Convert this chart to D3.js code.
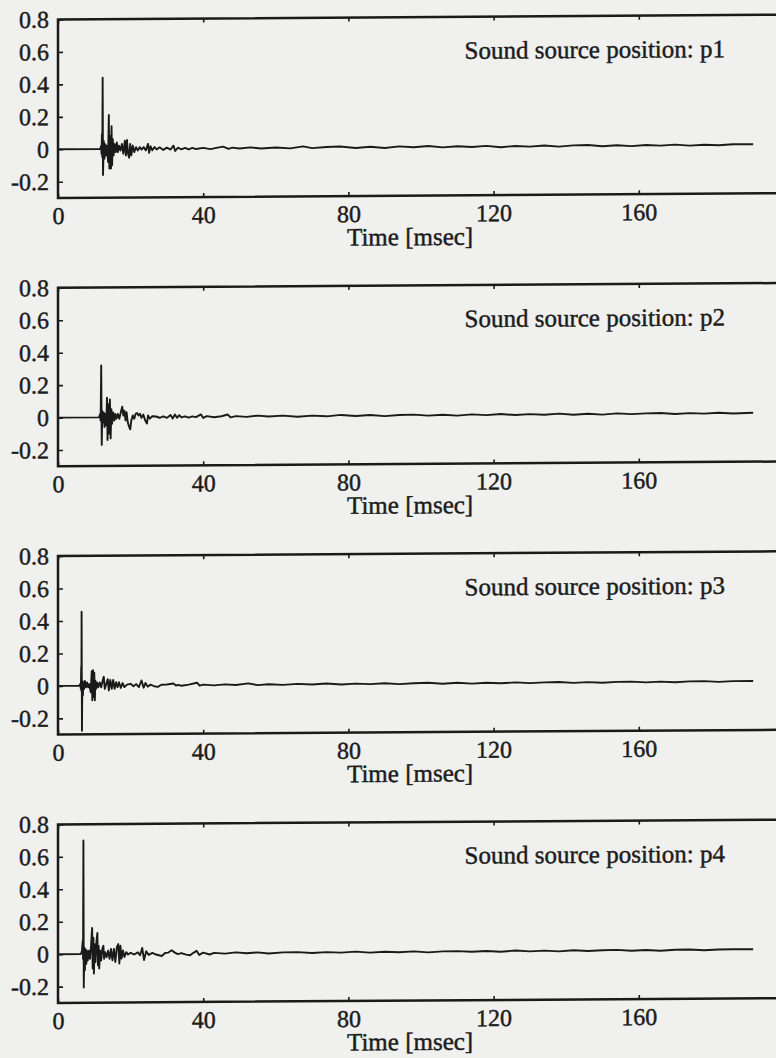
<!DOCTYPE html>
<html><head><meta charset="utf-8">
<script src="https://cdn.jsdelivr.net/npm/d3@7"></script>
<style>
html,body{margin:0;padding:0;background:#f0f0ee;}
svg{display:block;}
text{font-family:"Liberation Serif","Times New Roman",serif;fill:#1c1c1c;stroke:#1c1c1c;stroke-width:0.45px;}
</style></head><body>
<svg id="chart" width="776" height="1058"></svg>
<script>
// ---------- data ----------
const panelLabels = ["Sound source position: p1","Sound source position: p2","Sound source position: p3","Sound source position: p4"];
const xTicks = [0, 40, 80, 120, 160];
const yTicks = [-0.2, 0, 0.2, 0.4, 0.6, 0.8];
const xLabel = "Time [msec]";

// [time msec, amplitude]
const seriesP1 = [[0,0],[11.6,0],[11.9,0.02],[12.0,-0.03],[12.1,0.09],[12.2,-0.05],[12.3,0.44],[12.4,-0.16],[12.6,0.05],[12.8,-0.06],[13.0,0.03],[13.2,-0.04],[13.5,0.02],[13.8,-0.08],[14.0,0.21],[14.15,-0.12],[14.4,0.08],[14.6,-0.12],[14.75,0.14],[14.9,-0.1],[15.1,0.06],[15.3,-0.04],[15.6,0.03],[15.9,-0.02],[16.2,0.04],[16.5,-0.02],[16.8,0.02],[17.2,-0.01],[17.6,0.03],[18.0,-0.03],[18.4,0.05],[18.7,-0.04],[19.0,0.055],[19.3,-0.03],[19.6,-0.055],[19.9,0.03],[20.2,-0.04],[20.6,0.02],[21,-0.02],[21.5,0.01],[22,-0.01],[22.5,0.01],[23,-0.005],[23.6,0.01],[24.2,-0.01],[24.8,0.03],[25.1,-0.025],[25.5,0.015],[26,-0.01],[26.6,0.01],[27.2,-0.005],[28,0.008],[29,-0.008],[30,0.006],[31,-0.006],[31.8,0.018],[32.3,-0.015],[33,0.005],[34,-0.005],[35,0.004],[36,-0.006],[37,0.003],[38,-0.004],[40,0.003],[42,-0.005],[44,0.004],[45.5,0.01],[47,-0.004],[48,0.003],[50,-0.002],[53,0.004],[56,-0.003],[60,0.002],[64,-0.004],[67.5,0.008],[70,-0.003],[74,0.003],[77.7,0.006],[82,-0.004],[86,0.003],[90,-0.005],[94,0.004],[98,-0.002],[102,0.005],[106,-0.004],[110,0.003],[114,-0.003],[118,0.004],[122,-0.005],[126,0.002],[130,-0.003],[134,0.004],[138,-0.004],[142,0.003],[146,0.005],[150,-0.003],[154,0.002],[158,-0.004],[162,0.003],[166,-0.002],[170,0.004],[174,-0.003],[178,0.002],[182,-0.002],[186,0.004],[191.5,0.003]];

const seriesP2 = [[0,0],[11.3,0],[11.6,0.02],[11.75,-0.02],[11.9,0.32],[12.05,-0.17],[12.2,0.04],[12.4,-0.03],[12.6,0.03],[12.8,-0.06],[13.0,0.02],[13.3,-0.05],[13.5,0.12],[13.65,-0.14],[13.9,0.08],[14.1,-0.1],[14.3,0.11],[14.5,-0.13],[14.7,0.05],[14.9,-0.04],[15.2,0.03],[15.5,-0.02],[15.8,0.02],[16.1,-0.01],[16.5,0.02],[16.9,-0.01],[17.3,0.03],[17.7,0.065],[18.0,0.01],[18.3,0.04],[18.6,-0.02],[18.9,0.03],[19.2,-0.03],[19.6,-0.06],[19.9,-0.075],[20.2,-0.02],[20.6,0.01],[21.0,-0.01],[21.4,0.02],[21.8,0.025],[22.2,0.01],[22.6,0.02],[23.0,-0.005],[23.5,0.015],[24.0,-0.02],[24.5,-0.04],[24.8,0.01],[25.3,-0.01],[26,0.005],[27,0.003],[28,-0.005],[29,0.004],[30,-0.006],[31,0.012],[31.6,-0.01],[32.2,0.015],[32.8,-0.006],[33.4,0.01],[34,-0.004],[35,0.003],[36,-0.005],[37,0.002],[38,-0.003],[39.4,0.014],[40,-0.008],[41,0.003],[43,-0.004],[45,0.002],[46.8,0.012],[47.5,-0.006],[49,0.002],[52,-0.003],[55,0.004],[58,-0.002],[62,0.003],[66,-0.004],[70,0.002],[74,-0.003],[78,0.005],[82,-0.002],[86,0.003],[90,-0.004],[94,0.002],[98,0.004],[102,-0.003],[106,0.002],[110,-0.004],[114,0.003],[118,-0.002],[122,0.004],[126,-0.003],[130,0.002],[134,-0.002],[138,0.004],[142,-0.003],[146,0.002],[150,-0.004],[154,0.003],[158,-0.002],[162,0.002],[166,0.004],[170,-0.003],[174,0.002],[178,-0.002],[182,0.003],[186,-0.002],[191.5,0.002]];

const seriesP3 = [[0,0],[5.8,0],[6.1,0.01],[6.3,-0.02],[6.4,0.12],[6.45,-0.03],[6.5,0.456],[6.6,-0.277],[6.7,0.03],[6.85,-0.06],[7.0,0.02],[7.2,-0.02],[7.4,0.03],[7.7,-0.01],[8.0,0.02],[8.3,-0.01],[8.6,0.01],[9.0,-0.04],[9.3,0.09],[9.45,-0.09],[9.65,0.095],[9.8,-0.07],[10.0,0.08],[10.15,-0.09],[10.3,0.03],[10.5,-0.02],[10.8,0.02],[11.1,-0.01],[11.5,0.02],[11.9,-0.01],[12.3,0.03],[12.6,0.055],[12.9,-0.02],[13.3,0.01],[13.7,0.04],[14.0,-0.03],[14.4,0.035],[14.8,-0.02],[15.2,0.035],[15.6,-0.02],[16.0,0.02],[16.4,-0.01],[16.8,0.02],[17.3,-0.015],[17.8,0.015],[18.3,-0.01],[19.0,0.005],[20,0.01],[20.8,-0.005],[21.5,0.008],[22.3,-0.01],[23.0,0.03],[23.6,-0.015],[24.1,0.015],[24.7,-0.008],[25.5,0.004],[26.5,-0.006],[27.5,-0.01],[28.5,0.003],[30,0.004],[31.8,0.01],[32.5,-0.003],[33,0.002],[34,-0.004],[36,0.003],[38.3,0.014],[39,-0.004],[40,0.002],[43,-0.003],[46,0.003],[49,-0.002],[52.4,0.008],[55,-0.003],[58,0.002],[62,-0.003],[66,0.003],[70,-0.002],[74,0.004],[78,-0.003],[82,0.002],[86,-0.002],[90,0.003],[94,-0.003],[98,0.002],[102,0.004],[106,-0.002],[110,0.003],[114,-0.003],[118,0.002],[122,-0.002],[126,0.003],[130,-0.002],[134,0.002],[138,0.004],[142,-0.002],[146,0.002],[150,-0.003],[154,0.002],[158,0.003],[162,-0.002],[166,0.002],[170,-0.003],[174,0.002],[178,0.003],[182,-0.002],[186,0.002],[191.5,0.002]];

const seriesP4 = [[0,0],[6.3,0],[6.6,0.02],[6.8,0.08],[6.9,-0.03],[7.0,0.70],[7.1,-0.206],[7.25,0.04],[7.4,-0.1],[7.6,0.03],[7.8,-0.06],[8.0,0.02],[8.2,-0.04],[8.5,0.02],[8.8,-0.03],[9.1,0.05],[9.4,0.16],[9.55,-0.09],[9.75,0.1],[9.9,-0.12],[10.1,0.06],[10.3,-0.05],[10.6,0.08],[10.85,0.13],[11.0,-0.07],[11.2,0.05],[11.35,-0.09],[11.6,0.02],[11.9,-0.04],[12.2,0.03],[12.5,0.05],[12.7,-0.03],[13.0,0.01],[13.4,-0.02],[13.8,0.02],[14.2,-0.03],[14.6,0.03],[15.0,-0.04],[15.4,0.03],[15.8,-0.05],[16.2,0.04],[16.6,0.06],[16.9,-0.06],[17.2,0.05],[17.5,-0.03],[17.9,0.02],[18.3,-0.02],[18.8,0.01],[19.3,-0.005],[20,0.006],[21,-0.005],[22,0.008],[22.6,-0.01],[23.2,0.035],[23.7,-0.04],[24.3,0.015],[25,-0.008],[26,0.004],[27,-0.006],[28.6,-0.015],[29.5,0.003],[30.3,0.005],[31.3,0.02],[32.2,0.005],[33,-0.004],[34,0.002],[35.3,-0.008],[36.4,-0.012],[37.3,0.003],[38.2,0.015],[38.9,-0.01],[40,0.004],[41.8,-0.008],[43,0.002],[46,-0.003],[49,0.004],[52,-0.002],[55,0.003],[58,-0.004],[62,0.002],[66,0.003],[70,-0.003],[74,0.002],[78,-0.002],[82,0.004],[86,-0.003],[90,0.002],[94,-0.002],[98,0.003],[102,-0.004],[106,0.002],[110,0.003],[114,-0.002],[118,0.002],[122,-0.003],[126,0.004],[130,-0.002],[134,0.002],[138,-0.003],[142,0.003],[146,-0.002],[150,0.002],[154,0.004],[158,-0.002],[162,0.002],[166,-0.003],[170,0.002],[174,0.003],[178,-0.002],[182,0.002],[186,0.003],[191.5,0.002]];

const allSeries = [seriesP1, seriesP2, seriesP3, seriesP4];

// ---------- layout ----------
const left = 58, right = 784;
const firstTop = 19.5, panelStep = 268.3, panelH = 178.5;
const ink = "#1a1a1a";

const svg = d3.select("#chart");
const root = svg.append("g")
  .attr("transform", `translate(${left},0) skewY(-0.38) translate(${-left},0)`);

const x = d3.scaleLinear().domain([0, 200]).range([left, right]);

allSeries.forEach((data, i) => {
  const top = firstTop + i * panelStep;
  const bottom = top + panelH;
  const y = d3.scaleLinear().domain([-0.3, 0.8]).range([bottom, top]);
  const g = root.append("g");

  // signal
  g.append("path")
    .datum(data)
    .attr("d", d3.line().x(d => x(d[0])).y(d => y(d[1])))
    .attr("fill", "none")
    .attr("stroke", ink)
    .attr("stroke-width", 1.9)
    .attr("stroke-linejoin", "round");

  // frame
  g.append("rect")
    .attr("x", left).attr("y", top)
    .attr("width", right - left).attr("height", panelH)
    .attr("fill", "none").attr("stroke", ink).attr("stroke-width", 2.5);

  // y axis
  const ya = g.append("g").attr("transform", `translate(${left},0)`)
    .call(d3.axisLeft(y).tickValues(yTicks).tickSizeInner(-5).tickSizeOuter(0)
      .tickPadding(9).tickFormat(d => String(d)));
  // x axis bottom
  const xa = g.append("g").attr("transform", `translate(0,${bottom})`)
    .call(d3.axisBottom(x).tickValues(xTicks).tickSizeInner(-4).tickSizeOuter(0)
      .tickPadding(9).tickFormat(d => String(d)));
  // x axis top (ticks only)
  const xt = g.append("g").attr("transform", `translate(0,${top})`)
    .call(d3.axisTop(x).tickValues(xTicks).tickSizeInner(-4).tickSizeOuter(0)
      .tickFormat(() => ""));

  [ya, xa, xt].forEach(a => {
    a.attr("font-size", null).attr("font-family", null);
    a.select(".domain").remove();
    a.selectAll(".tick line").attr("stroke", ink).attr("stroke-width", 1.6);
    a.selectAll(".tick text").attr("fill", "#1c1c1c").style("font-size", "24px");
  });

  // x axis title
  g.append("text")
    .attr("x", x(97)).attr("y", bottom + 49.5)
    .attr("text-anchor", "middle")
    .style("font-size", "25px")
    .text(xLabel);

  // panel label
  g.append("text")
    .attr("x", x(112)).attr("y", top + 42)
    .style("font-size", "25px")
    .text(panelLabels[i]);
});
</script>
</body></html>
